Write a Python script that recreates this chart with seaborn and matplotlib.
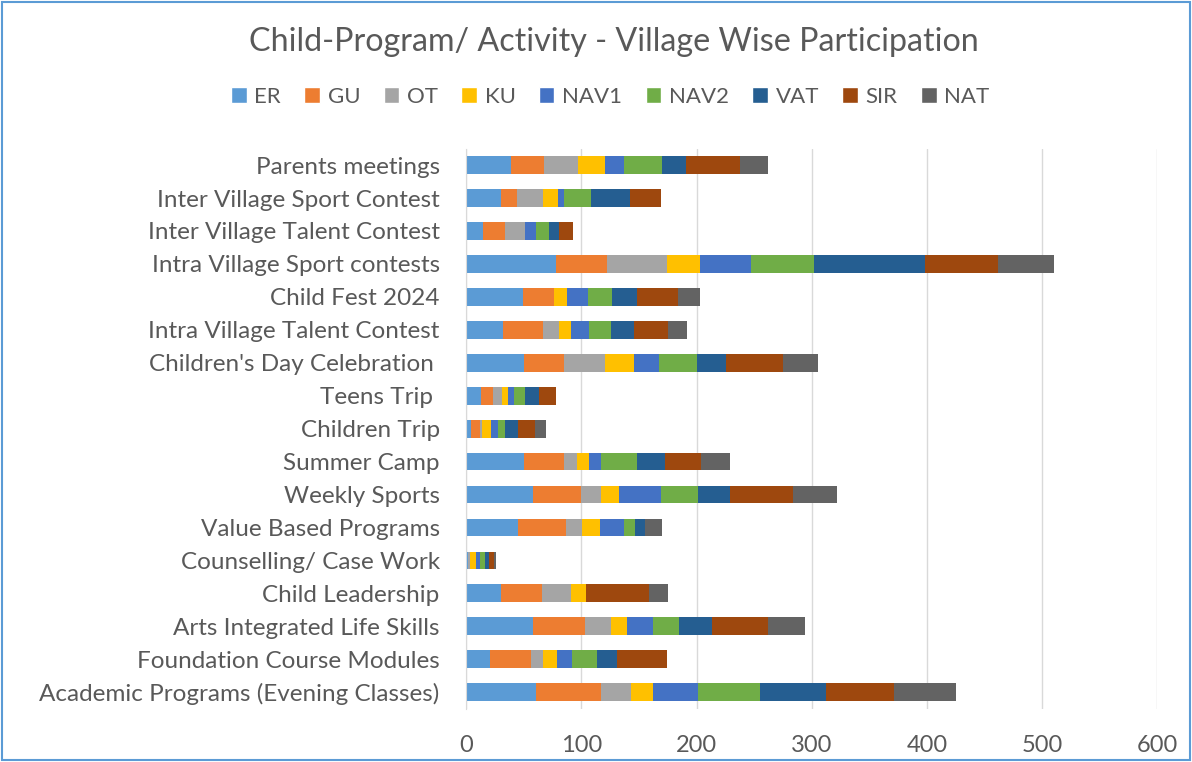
import matplotlib
matplotlib.use("Agg")
import matplotlib.pyplot as plt
from matplotlib.patches import Patch, Rectangle
import seaborn as sns
import pandas as pd

programs = ["Parents meetings", "Inter Village Sport Contest", "Inter Village Talent Contest",
            "Intra Village Sport contests", "Child Fest 2024", "Intra Village Talent Contest",
            "Children's Day Celebration ", "Teens Trip ", "Children Trip", "Summer Camp",
            "Weekly Sports", "Value Based Programs", "Counselling/ Case Work", "Child Leadership",
            "Arts Integrated Life Skills", "Foundation Course Modules",
            "Academic Programs (Evening Classes)"]

villages = ["ER", "GU", "OT", "KU", "NAV1", "NAV2", "VAT", "SIR", "NAT"]

ER = [39, 30, 15, 78, 49, 32, 50, 13, 4, 50, 58, 45, 2, 30, 58, 21, 61]
GU = [29, 14, 19, 44, 27, 35, 35, 10, 8, 35, 42, 42, 0, 36, 45, 35, 56]
OT = [29, 23, 17, 52, 0, 14, 36, 8, 2, 11, 17, 14, 1, 25, 23, 11, 26]
KU = [24, 13, 0, 29, 12, 10, 25, 5, 8, 11, 16, 15, 6, 13, 14, 12, 19]
NAV1 = [16, 5, 10, 44, 18, 16, 21, 6, 6, 10, 36, 21, 3, 0, 22, 13, 39]
NAV2 = [33, 23, 11, 55, 21, 19, 33, 9, 6, 31, 32, 10, 4, 0, 23, 22, 54]
VAT = [21, 34, 9, 96, 21, 20, 26, 12, 11, 25, 28, 8, 4, 0, 28, 17, 57]
SIR = [47, 27, 12, 64, 36, 29, 49, 15, 15, 31, 55, 0, 4, 55, 49, 43, 59]
NAT = [24, 0, 0, 48, 19, 17, 30, 0, 9, 25, 38, 15, 2, 16, 32, 0, 54]

colors = ["#5B9BD5", "#ED7D31", "#A5A5A5", "#FFC000", "#4472C4",
          "#70AD47", "#255E91", "#9E480E", "#636363"]

df = pd.DataFrame({"ER": ER, "GU": GU, "OT": OT, "KU": KU, "NAV1": NAV1,
                   "NAV2": NAV2, "VAT": VAT, "SIR": SIR, "NAT": NAT}, index=programs)
cum = df.cumsum(axis=1)

sns.set_style("white")
plt.rcParams['font.family'] = ['Lato', 'DejaVu Sans']
txt = "#595959"

fig = plt.figure(figsize=(11.92, 7.62), dpi=100)
ax = fig.add_axes([0.391, 0.070, 0.580, 0.735])

# stacked bars: draw cumulative totals from the last series back to the first
for v, c in reversed(list(zip(villages, colors))):
    sns.barplot(x=cum[v].values, y=programs, color=c, saturation=1, width=0.54,
                orient="h", ax=ax, linewidth=0)

ax.set_xlim(0, 600)
ax.set_xticks(range(0, 601, 100))
ax.xaxis.grid(True, color="#D9D9D9", linewidth=1)
ax.set_axisbelow(True)
for s in ["top", "right", "bottom"]:
    ax.spines[s].set_visible(False)
ax.spines["left"].set_color("#D9D9D9")
ax.tick_params(axis="y", length=3, color="#D9D9D9", labelsize=17.5, labelcolor=txt, pad=16)
ax.tick_params(axis="x", length=0, labelsize=17, labelcolor=txt, pad=19)
ax.set_xlabel("")
ax.set_ylabel("")

fig.text(0.515, 0.945, "Child-Program/ Activity - Village Wise Participation",
         ha="center", va="center", fontsize=23.2, color=txt)

handles = [Patch(facecolor=c, label=v) for v, c in zip(villages, colors)]
fig.legend(handles=handles, loc="center", bbox_to_anchor=(0.512, 0.873), ncol=9,
           frameon=False, fontsize=16, labelcolor=txt, handlelength=0.7,
           handleheight=0.7, handletextpad=0.35, columnspacing=1.05)

fig.patches.append(Rectangle((0.002, 0.003), 0.996, 0.994, transform=fig.transFigure,
                             fill=False, edgecolor="#5B9BD5", linewidth=1.5))

fig.savefig("out.png", dpi=100)
